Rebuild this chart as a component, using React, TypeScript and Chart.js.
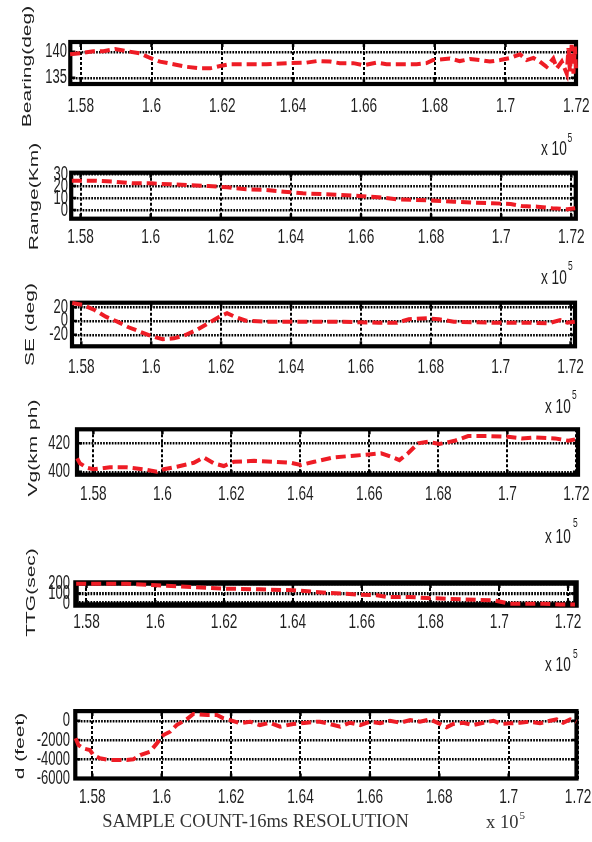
import React, { useEffect, useRef } from "react";
import { Chart, registerables } from "chart.js";

Chart.register(...registerables);

// ---------- data ----------
const xTickValues = [1.58, 1.6, 1.62, 1.64, 1.66, 1.68, 1.7, 1.72];

const bearingTicks = [135, 140];
const bearingX = [1.577, 1.5798, 1.5836, 1.5864, 1.5897, 1.593, 1.5967, 1.5996, 1.6024, 1.6062, 1.6099, 1.6137, 1.6165, 1.6194, 1.6222, 1.6269, 1.6325, 1.6382, 1.6438, 1.6467, 1.6504, 1.6532, 1.657, 1.6598, 1.6636, 1.6664, 1.6702, 1.6749, 1.6777, 1.6796, 1.6843, 1.6871, 1.69, 1.6928, 1.6956, 1.6985, 1.7013, 1.7041, 1.706, 1.7079, 1.7097, 1.7116, 1.7135, 1.7145, 1.7159, 1.7173, 1.7178, 1.7182, 1.7187, 1.7192, 1.7196, 1.7199];
const bearingY = [139.5, 139.7, 140.1, 140.1, 140.5, 140.1, 139.7, 138.8, 138.1, 137.6, 137.1, 136.8, 136.8, 137.25, 137.6, 137.6, 137.6, 137.8, 137.9, 138.2, 138.1, 137.8, 137.8, 137.4, 137.9, 137.6, 137.6, 137.6, 137.8, 138.4, 138.7, 138.2, 138.6, 138.4, 138.1, 138.4, 138.8, 139.5, 138.4, 138.8, 138.1, 137.1, 138.7, 136.8, 138.1, 135.8, 140.7, 136.2, 141.3, 135.8, 141.0, 136.8];

const rangeTicks = [0, 10, 20, 30];
const rangeX = [1.5775, 1.584, 1.5894, 1.5948, 1.6002, 1.6056, 1.611, 1.6164, 1.6218, 1.6272, 1.6326, 1.638, 1.6434, 1.6488, 1.6542, 1.6595, 1.665, 1.6704, 1.6758, 1.6811, 1.6865, 1.692, 1.6974, 1.7027, 1.7059, 1.7103, 1.7146, 1.7189, 1.7211];
const rangeY = [24.4, 24.4, 23.6, 22.2, 22.2, 21.4, 20.8, 20, 18.9, 17.2, 16.7, 15.3, 13.9, 13.3, 12.5, 11.7, 10.6, 8.9, 8.3, 7.8, 6.9, 6.1, 5.6, 5, 3.3, 2.8, 1.4, 0.6, 1.4];

const seTicks = [-20, 0, 20];
const seX = [1.5774, 1.5805, 1.5838, 1.587, 1.5903, 1.5935, 1.5968, 1.6, 1.6033, 1.6065, 1.6098, 1.613, 1.6163, 1.6195, 1.6217, 1.6239, 1.6271, 1.6325, 1.6434, 1.6542, 1.665, 1.6704, 1.6737, 1.6791, 1.6823, 1.6866, 1.6975, 1.7083, 1.7137, 1.717, 1.7191, 1.7212];
const seY = [26, 23.2, 15.9, 6.2, -1, -9.1, -15.5, -21.7, -26.5, -25.1, -20.3, -13, -3.3, 6.2, 11.2, 6.2, 0.4, -1, -1, -1, -2.5, -2.5, 2.5, 3.9, 2.5, -1, -2.5, -2.5, -3.3, 1.4, -2.5, -1];

const vgTicks = [400, 420];
const vgX = [1.5753, 1.5761, 1.5781, 1.58, 1.5848, 1.5897, 1.5946, 1.5984, 1.6004, 1.6042, 1.6091, 1.612, 1.6149, 1.6178, 1.6207, 1.6266, 1.6324, 1.6372, 1.6401, 1.644, 1.6497, 1.6555, 1.6605, 1.6634, 1.6663, 1.6687, 1.6712, 1.6741, 1.677, 1.6803, 1.6847, 1.6886, 1.6944, 1.7002, 1.7041, 1.708, 1.7138, 1.7177, 1.7196];
const vgY = [409.4, 405.9, 402.8, 401.7, 403.1, 403.1, 401.7, 400, 401.7, 403.5, 406.3, 410.1, 405.9, 404, 407, 407.7, 407, 406.3, 404.7, 407, 410.1, 411.3, 412.3, 413, 410.6, 408.2, 413, 420, 421.1, 419.5, 421.8, 425.1, 425.1, 424.6, 423.5, 424.2, 423.5, 421.8, 422.8];

const ttgTicks = [0, 100, 200];
const ttgX = [1.577, 1.5917, 1.6004, 1.611, 1.6208, 1.6304, 1.6401, 1.6498, 1.6595, 1.6644, 1.6673, 1.674, 1.6789, 1.6886, 1.6983, 1.7031, 1.7128, 1.7177, 1.722];
const ttgY = [202.7, 202.7, 186, 168.2, 150.4, 144.2, 133.7, 108.6, 87.7, 81.4, 63.7, 63.7, 53.2, 39.6, 29.1, -6.4, -6.4, -15, -15];

const dTicks = [-6000, -4000, -2000, 0];
const dX = [1.5752, 1.576, 1.5774, 1.5793, 1.5803, 1.5822, 1.5851, 1.5899, 1.5918, 1.5938, 1.5966, 1.5986, 1.6005, 1.6024, 1.6043, 1.6072, 1.6091, 1.6132, 1.6159, 1.6178, 1.6197, 1.6226, 1.6255, 1.6283, 1.6312, 1.6341, 1.6379, 1.6418, 1.6447, 1.6456, 1.6485, 1.6514, 1.6543, 1.6572, 1.66, 1.6629, 1.6658, 1.6687, 1.6716, 1.6744, 1.6773, 1.6802, 1.6821, 1.684, 1.6869, 1.6898, 1.6927, 1.6956, 1.698, 1.7004, 1.7033, 1.7061, 1.709, 1.7119, 1.7138, 1.7157, 1.7177, 1.7195];
const dY = [-1830, -2520, -2870, -3040, -3560, -3900, -4080, -4080, -4010, -3560, -3220, -2350, -1490, -1140, -450, 140, 700, 590, 590, 250, 70, -270, -100, -450, -210, -620, -340, -210, -100, -100, -340, -620, -210, -450, -100, -270, 0, -210, 70, -100, 140, -340, -690, -340, -210, -450, -210, 0, -340, -270, -210, -100, -270, 0, 140, -210, 140, -100];

const yTitles = ["Bearing(deg)", "Range(Km)", "SE (deg)", "Vg(km ph)", "TTG(sec)", "d (feet)"];
const xTitle = "SAMPLE COUNT-16ms RESOLUTION";
const xMultiplier = "x 10";
const xMultiplierExp = "5";

// ---------- layout / style ----------
const W = 592;
const H = 842;
const RED = "#ee1c25";
const INK = "#1e1e1e";
const SANS = '"Liberation Sans", Arial, sans-serif';
const SERIF = '"Liberation Serif", "Times New Roman", serif';
const SX = 0.65;

type PanelCfg = {
  xs: number[];
  ys: number[];
  yTicks: number[];
  area: { l: number; r: number; t: number; b: number };
  xMin: number;
  xMax: number;
  yMin: number;
  yMax: number;
  yLabelRight: number;
  xLabelY: number;
  title: string;
  titleX: number;
  titleY: number;
  mult?: { x: number; y: number; ex: number; ey: number };
  bottom?: boolean;
  frameW?: number;
  gridW?: number;
};

const PANELS: PanelCfg[] = [
  {
    xs: bearingX, ys: bearingY, yTicks: bearingTicks,
    area: { l: 70.3, r: 576, t: 42, b: 84 },
    xMin: 1.57706, xMax: 1.71992, yMin: 133.79, yMax: 141.87,
    yLabelRight: 67, xLabelY: 106, title: yTitles[0], titleX: 27.5, titleY: 66.5,
    mult: { x: 541, y: 149, ex: 567.5, ey: 138 },
  },
  {
    xs: rangeX, ys: rangeY, yTicks: rangeTicks,
    area: { l: 71.2, r: 575.8, t: 172.7, b: 218.7 },
    xMin: 1.57732, xMax: 1.72128, yMin: -7.25, yMax: 31.08,
    yLabelRight: 68, xLabelY: 237.5, title: yTitles[1], titleX: 34, titleY: 196.5,
    mult: { x: 541, y: 278, ex: 568, ey: 266 },
  },
  {
    xs: seX, ys: seY, yTicks: seTicks,
    area: { l: 72, r: 575, t: 302.7, b: 346.3 },
    xMin: 1.57734, xMax: 1.72126, yMin: -36.7, yMax: 26.5,
    yLabelRight: 68, xLabelY: 367.5, title: yTitles[2], titleX: 30.5, titleY: 324.5,
    mult: { x: 545, y: 407, ex: 572, ey: 395 },
  },
  {
    xs: vgX, ys: vgY, yTicks: vgTicks,
    area: { l: 77, r: 578, t: 429.3, b: 474.7 },
    xMin: 1.57525, xMax: 1.72046, yMin: 397.9, yMax: 429.9,
    yLabelRight: 70, xLabelY: 494, title: yTitles[3], titleX: 33, titleY: 448,
    mult: { x: 545, y: 537, ex: 573, ey: 523 },
  },
  {
    xs: ttgX, ys: ttgY, yTicks: ttgTicks,
    area: { l: 76, r: 576, t: 583, b: 605 },
    xMin: 1.57695, xMax: 1.7223, yMin: -20, yMax: 210,
    yLabelRight: 70, xLabelY: 622.5, title: yTitles[4], titleX: 31, titleY: 592.5,
    mult: { x: 545, y: 665, ex: 573, ey: 654 },
    frameW: 5.5, gridW: 3.2,
  },
  {
    xs: dX, ys: dY, yTicks: dTicks,
    area: { l: 75.3, r: 576.5, t: 711.1, b: 778.5 },
    xMin: 1.5751, xMax: 1.71954, yMin: -6000, yMax: 1000,
    yLabelRight: 70, xLabelY: 797, title: yTitles[5], titleX: 20.5, titleY: 746,
    bottom: true,
  },
];

function squeezedText(
  ctx: CanvasRenderingContext2D, text: string, x: number, y: number, size: number,
  align: CanvasTextAlign, sx = SX, font = SANS,
) {
  ctx.save();
  ctx.translate(x, y);
  ctx.scale(sx, 1);
  ctx.font = `${size}px ${font}`;
  ctx.fillStyle = INK;
  ctx.textAlign = align;
  ctx.textBaseline = "middle";
  ctx.fillText(text, 0, 0);
  ctx.restore();
}

function Panel({ cfg }: { cfg: PanelCfg }) {
  const ref = useRef<HTMLCanvasElement | null>(null);

  useEffect(() => {
    if (!ref.current) return;
    const framePlugin = {
      id: "frame",
      beforeDatasetsDraw(chart: any) {
        const { ctx, chartArea: a } = chart;
        const xs = chart.scales.x;
        const ys = chart.scales.y;
        ctx.save();
        ctx.strokeStyle = "#000";
        ctx.lineWidth = cfg.frameW ?? 4.2;
        ctx.strokeRect(a.left, a.top, a.right - a.left, a.bottom - a.top);
        ctx.lineWidth = 2.5;
        ctx.beginPath();
        for (const v of xTickValues) {
          const px = xs.getPixelForValue(v);
          if (px < a.left + 2 || px > a.right - 2) continue;
          ctx.moveTo(px, a.bottom);
          ctx.lineTo(px, a.bottom - 5);
          ctx.moveTo(px, a.top);
          ctx.lineTo(px, a.top + 5);
        }
        for (const v of cfg.yTicks) {
          const py = ys.getPixelForValue(v);
          if (py < a.top + 2 || py > a.bottom - 2) continue;
          ctx.moveTo(a.left, py);
          ctx.lineTo(a.left + 5, py);
          ctx.moveTo(a.right, py);
          ctx.lineTo(a.right - 5, py);
        }
        ctx.stroke();
        ctx.restore();
      },
      afterDraw(chart: any) {
        const { ctx } = chart;
        const xs = chart.scales.x;
        const ys = chart.scales.y;
        for (const v of xTickValues) {
          squeezedText(ctx, String(v), xs.getPixelForValue(v), cfg.xLabelY, 21, "center");
        }
        for (const v of cfg.yTicks) {
          squeezedText(ctx, String(v), cfg.yLabelRight, ys.getPixelForValue(v), 20, "right");
        }
        // rotated axis title
        ctx.save();
        ctx.translate(cfg.titleX, cfg.titleY);
        ctx.scale(SX, 1);
        ctx.rotate(-Math.PI / 2);
        ctx.font = `21px ${SANS}`;
        ctx.fillStyle = INK;
        ctx.textAlign = "center";
        ctx.textBaseline = "middle";
        ctx.fillText(cfg.title, 0, 0);
        ctx.restore();
        if (cfg.mult) {
          squeezedText(ctx, xMultiplier, cfg.mult.x, cfg.mult.y, 21, "left");
          squeezedText(ctx, xMultiplierExp, cfg.mult.ex, cfg.mult.ey, 13, "left");
        }
        if (cfg.bottom) {
          ctx.save();
          ctx.font = `18.5px ${SERIF}`;
          ctx.fillStyle = "#333";
          ctx.textAlign = "center";
          ctx.textBaseline = "middle";
          ctx.fillText(xTitle, 255.5, 822);
          ctx.textAlign = "left";
          ctx.fillText(xMultiplier, 486, 823);
          ctx.font = `11px ${SERIF}`;
          ctx.fillText(xMultiplierExp, 519.5, 816);
          ctx.restore();
        }
      },
    };

    const chart = new Chart(ref.current, {
      type: "line",
      data: {
        datasets: [
          {
            data: cfg.xs.map((x, i) => ({ x, y: cfg.ys[i] })),
            borderColor: RED,
            borderWidth: 4,
            borderDash: [10, 5],
            pointRadius: 0,
            tension: 0,
            fill: false,
            clip: 3,
          } as any,
        ],
      },
      options: {
        responsive: false,
        maintainAspectRatio: false,
        animation: false,
        events: [],
        layout: {
          padding: { left: cfg.area.l, right: W - cfg.area.r, top: cfg.area.t, bottom: H - cfg.area.b },
        },
        plugins: {
          legend: { display: false },
          tooltip: { enabled: false },
          title: { display: false },
        },
        scales: {
          x: {
            type: "linear",
            min: cfg.xMin,
            max: cfg.xMax,
            afterBuildTicks: (s: any) => {
              s.ticks = xTickValues.map((v) => ({ value: v }));
            },
            ticks: { display: false },
            grid: { drawTicks: false, color: "#000", lineWidth: 2 },
            border: { display: false, dash: [3, 2] },
          },
          y: {
            type: "linear",
            min: cfg.yMin,
            max: cfg.yMax,
            afterBuildTicks: (s: any) => {
              s.ticks = cfg.yTicks.map((v) => ({ value: v }));
            },
            ticks: { display: false },
            grid: { drawTicks: false, color: "#000", lineWidth: cfg.gridW ?? 2.4 },
            border: { display: false, dash: [1.7, 1.2] },
          },
        },
      } as any,
      plugins: [framePlugin],
    });
    return () => chart.destroy();
  }, [cfg]);

  return (
    <canvas
      ref={ref}
      width={W}
      height={H}
      style={{ position: "absolute", left: 0, top: 0, width: W, height: H }}
    />
  );
}

export default function App() {
  return (
    <div style={{ position: "absolute", left: 0, top: 0, width: W, height: H, background: "#fff", overflow: "hidden" }}>
      {PANELS.map((p, i) => (
        <Panel key={i} cfg={p} />
      ))}
    </div>
  );
}
